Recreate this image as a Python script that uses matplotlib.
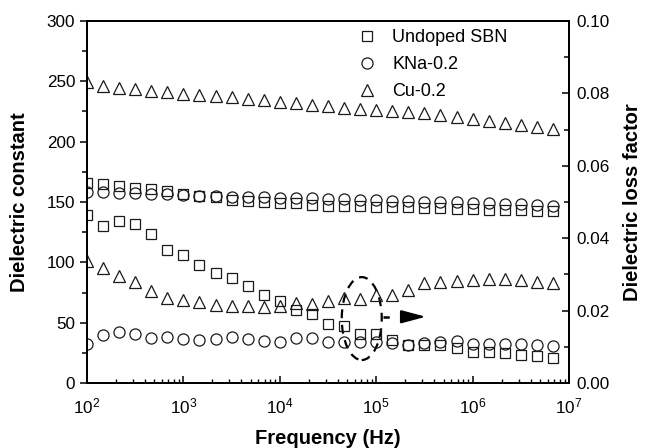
import matplotlib
matplotlib.use('Agg')
import matplotlib.pyplot as plt
from matplotlib.patches import Ellipse
from matplotlib.ticker import MultipleLocator, LogLocator

plt.rcParams['font.family'] = ['Liberation Sans', 'DejaVu Sans']

# frequency points (Hz), 6 per decade
freq = [100, 147, 215, 316, 464, 681, 1000, 1468, 2154, 3162, 4642, 6813,
        10000, 14678, 21544, 31623, 46416, 68129, 100000, 146780, 215443,
        316228, 464159, 681292, 1000000, 1467799, 2154435, 3162278, 4641589,
        6812921]

# dielectric constant (left axis)
undoped_eps = [166, 164.6, 163.2, 161.3, 160.5, 159, 157, 155, 154, 152, 151,
               150, 149.5, 149, 147.5, 147, 146.7, 146.5, 146, 145.8, 145.5,
               145, 144.8, 144.5, 144, 143.6, 143.3, 143, 142.6, 142.3]
kna_eps = [158.6, 158, 157.7, 157.2, 156.6, 156.3, 155.8, 155.2, 155, 154.4,
           154.1, 153.8, 153.5, 153.2, 153, 152.7, 152.4, 152, 151.6, 151.2,
           150.8, 150.4, 150, 149.6, 149.2, 148.8, 148.4, 148, 147.5, 147]
cu_eps = [249.5, 246, 244.7, 243.6, 242.3, 241, 239.8, 239, 238, 236.8, 235.4,
          234.5, 233, 231.8, 230.7, 229.6, 228, 227, 226, 225.4, 224.3, 223.5,
          222, 220.7, 218.8, 217, 215.7, 213.8, 212.4, 210.5]

# dielectric loss factor (right axis)
undoped_loss = [0.0464, 0.0435, 0.0447, 0.0439, 0.0412, 0.0367, 0.0354, 0.0327,
                0.0304, 0.0289, 0.0267, 0.0242, 0.0226, 0.0201, 0.0191, 0.0163,
                0.0157, 0.0135, 0.0135, 0.0120, 0.0104, 0.0104, 0.0106, 0.0097,
                0.0087, 0.0087, 0.0083, 0.0077, 0.0075, 0.0068]
kna_loss = [0.0108, 0.0133, 0.0140, 0.0135, 0.0124, 0.0126, 0.0122, 0.0120,
            0.0122, 0.0126, 0.0122, 0.0117, 0.0114, 0.0123, 0.0125, 0.0112,
            0.0114, 0.0114, 0.0114, 0.0110, 0.0105, 0.0110, 0.0114, 0.0115,
            0.0108, 0.0108, 0.0108, 0.0108, 0.0106, 0.0103]
cu_loss = [0.0338, 0.0317, 0.0296, 0.0278, 0.0255, 0.0235, 0.0230, 0.0225,
           0.0216, 0.0212, 0.0212, 0.0210, 0.0212, 0.0222, 0.0218, 0.0227,
           0.0234, 0.0232, 0.0242, 0.0243, 0.0258, 0.0276, 0.0278, 0.0283,
           0.0284, 0.0287, 0.0287, 0.0285, 0.0280, 0.0276]

labels = ['Undoped SBN', 'KNa-0.2', 'Cu-0.2']

fig = plt.figure(figsize=(6.46, 4.48), dpi=100)
ax = fig.add_axes([87/646, 1-383/448, 482/646, 362/448])
ax2 = ax.twinx()

mk = dict(linestyle='none', mfc='none', mec='#1a1a1a', mew=0.9)
h1, = ax.plot(freq, undoped_eps, marker='s', ms=7.5, **mk)
h2, = ax.plot(freq, kna_eps, marker='o', ms=8, **mk)
h3, = ax.plot(freq, cu_eps, marker='^', ms=8.5, **mk)
ax2.plot(freq, undoped_loss, marker='s', ms=7.5, **mk)
ax2.plot(freq, kna_loss, marker='o', ms=8, **mk)
ax2.plot(freq, cu_loss, marker='^', ms=8.5, **mk)

ax.set_xscale('log')
ax.set_xlim(100, 1e7)
ax.set_ylim(0, 300)
ax2.set_ylim(0, 0.10)

ax.xaxis.set_major_locator(LogLocator(base=10))
ax.xaxis.set_minor_locator(LogLocator(base=10, subs=range(2, 10)))
ax.yaxis.set_major_locator(MultipleLocator(50))
ax.yaxis.set_minor_locator(MultipleLocator(25))
ax2.yaxis.set_major_locator(MultipleLocator(0.02))
ax2.yaxis.set_minor_locator(MultipleLocator(0.01))
ax2.yaxis.set_major_formatter(plt.FormatStrFormatter('%.2f'))

ax.tick_params(axis='y', which='both', direction='out', right=False, labelsize=12.3)
ax.tick_params(axis='y', which='major', length=5, width=1.1)
ax.tick_params(axis='y', which='minor', length=3.5, width=1.1)
ax.tick_params(axis='x', which='both', direction='in', top=False, labelsize=12.3, pad=9.5)
ax.tick_params(axis='x', which='major', length=5, width=1.1)
ax.tick_params(axis='x', which='minor', length=2.8, width=1.0)
ax2.tick_params(axis='y', which='both', direction='in', labelsize=12.3, pad=5)
ax2.tick_params(axis='y', which='major', length=5, width=1.1)
ax2.tick_params(axis='y', which='minor', length=3.5, width=1.1)

for a in (ax, ax2):
    for s in a.spines.values():
        s.set_linewidth(1.3)

ax.set_xlabel('Frequency (Hz)', fontsize=14.5, fontweight='bold', labelpad=9)
ax.set_ylabel('Dielectric constant', fontsize=14.5, fontweight='bold', labelpad=12.5)
ax2.set_ylabel('Dielectric loss factor', fontsize=14.5, fontweight='bold', labelpad=10)

ax.legend([h1, h2, h3], labels, loc='upper left', bbox_to_anchor=(0.562, 0.977),
          frameon=False, fontsize=13, numpoints=1, handlelength=1.0,
          handletextpad=0.9, labelspacing=0.55, borderpad=0, borderaxespad=0)

# dashed ellipse and arrow marking the loss curves
ax.add_patch(Ellipse((0.570, 0.178), 0.083, 0.229, transform=ax.transAxes,
                     fill=False, ls=(0, (4, 3)), lw=1.6, color='k'))
ax.plot([0.614, 0.665], [0.183, 0.183], transform=ax.transAxes, color='k',
        lw=1.8, ls=(0, (2.5, 6)))
ax.annotate('', xy=(0.703, 0.183), xytext=(0.655, 0.183), xycoords='axes fraction',
            arrowprops=dict(arrowstyle='-|>,head_length=0.75,head_width=0.2',
                            mutation_scale=20, lw=1.5, color='k',
                            shrinkA=0, shrinkB=0))

plt.savefig('out.png', dpi=100)
